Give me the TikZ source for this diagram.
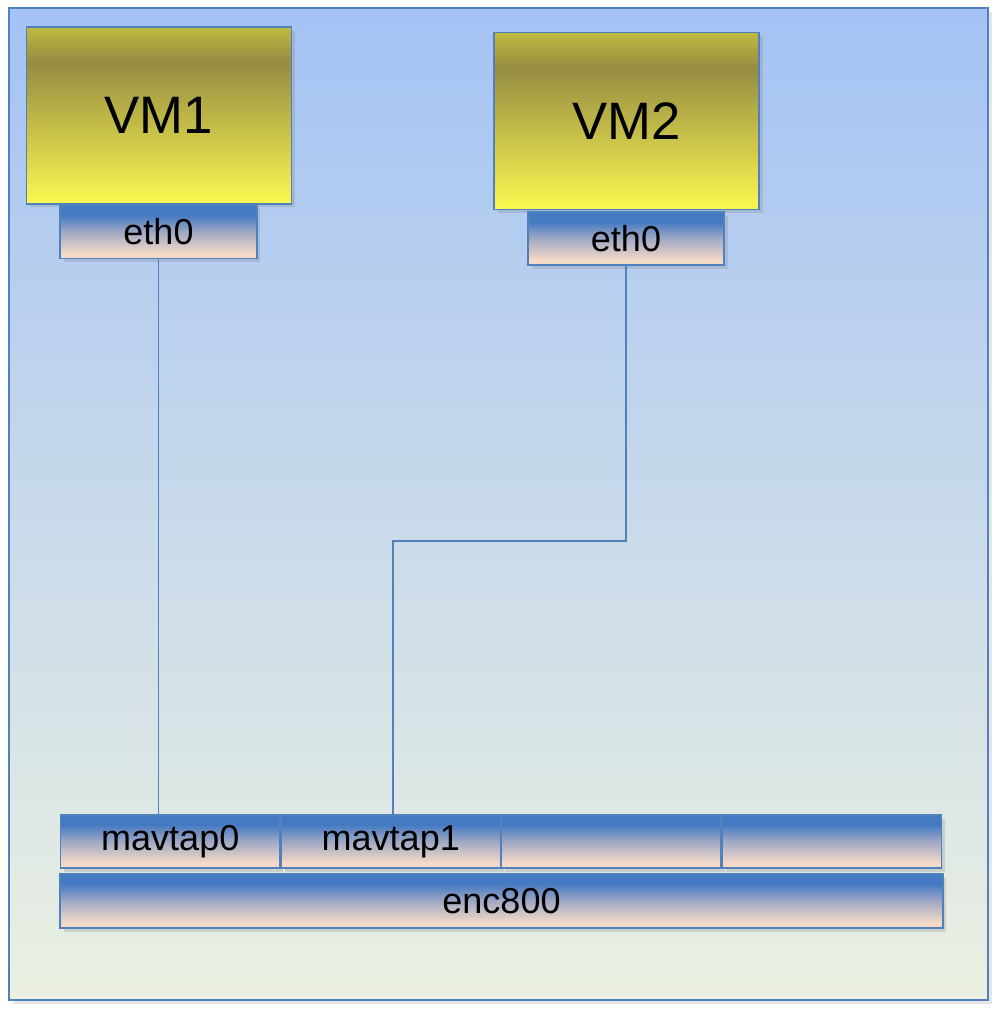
\documentclass[tikz,border=0pt]{standalone}
\usepackage{fontspec}
\setmainfont{Liberation Sans}
\usepackage{xcolor}
\usetikzlibrary{positioning,shadows}
\definecolor{edge}{RGB}{79,129,189}
\definecolor{hosttop}{RGB}{164,194,244}
\definecolor{hostbot}{RGB}{235,240,225}
\definecolor{vmtop}{RGB}{192,186,64}
\definecolor{vmdark}{RGB}{150,140,66}
\definecolor{vmbot}{RGB}{252,248,80}
\definecolor{iftop}{RGB}{68,122,194}
\definecolor{ifmid}{RGB}{160,168,196}
\definecolor{ifbot}{RGB}{244,218,200}
\pgfdeclareverticalshading{vmshade}{100bp}{color(0bp)=(vmbot); color(25bp)=(vmbot);
  color(65bp)=(vmdark); color(75bp)=(vmtop); color(100bp)=(vmtop)}
\pgfdeclareverticalshading{ifshade}{100bp}{color(0bp)=(ifbot); color(30bp)=(ifbot);
  color(50bp)=(ifmid); color(66bp)=(iftop); color(100bp)=(iftop)}

\begin{document}
\begin{tikzpicture}[x=0.02cm, y=-0.02cm,
  vm/.style={rectangle, draw=edge, line width=1.1pt, shading=vmshade,
    minimum width=5.3cm, minimum height=3.54cm, inner sep=0pt,
    font=\fontsize{30}{36}\selectfont,
    drop shadow={opacity=0.25, shadow xshift=2pt, shadow yshift=-2pt}},
  iface/.style={rectangle, draw=edge, line width=1.1pt, shading=ifshade,
    minimum height=1.06cm, inner sep=0pt, font=\fontsize{20.5}{24}\selectfont,
    drop shadow={opacity=0.25, shadow xshift=2pt, shadow yshift=-2pt}},
  tap/.style={iface, minimum width=4.39cm},
  link/.style={draw=edge, line width=1.1pt}
]
\useasboundingbox (0,0) rectangle (996,1010);

% host
\draw[draw=edge, line width=1.1pt, top color=hosttop, bottom color=hostbot,
  drop shadow={opacity=0.2, shadow xshift=2pt, shadow yshift=-2pt}]
  (9,8) rectangle (988,1000);

% virtual machines
\node[vm] (vm1) at (159,115.5) {VM1};
\node[iface, minimum width=3.94cm] (vm1eth) at (158.5,232) {eth0};

\node[vm] (vm2) at (626.5,121) {VM2};
\node[iface, minimum width=3.92cm] (vm2eth) at (626,238.5) {eth0};

% taps
\node[tap] (tap0) at (170.25,841.5) {mavtap0};
\node[tap] (tap1) at (390.75,841.5) {mavtap1};
\node[tap] (tap2) at (611.25,841.5) {};
\node[tap] (tap3) at (831.75,841.5) {};

\node[iface, minimum width=17.66cm, minimum height=1.08cm] (enc) at (501.5,901) {enc800};

% links
\coordinate (bend) at (393,541);
\draw[link] (vm1eth.south) -- (vm1eth.south |- tap0.north);
\draw[link] (vm2eth.south) |- (bend) -- (bend |- tap1.north);

\end{tikzpicture}
\end{document}
